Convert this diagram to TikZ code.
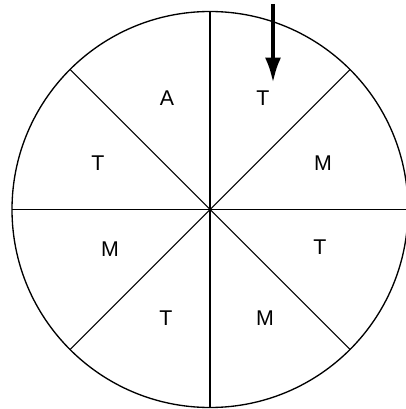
\documentclass[tikz,border=0pt]{standalone}
\usepackage{fontspec}
\setmainfont{Liberation Sans}
\usetikzlibrary{arrows.meta}

\begin{document}
\begin{tikzpicture}[x=0.75pt,y=-0.75pt,font=\fontsize{16}{19}\selectfont,>={Latex[length=19pt,width=12pt]}]
\useasboundingbox (0,0) rectangle (405,409);
\coordinate (c) at (210,209.5);
\draw[line width=1pt] (c) circle[radius=198*0.75pt];
\foreach \a in {0,45,...,315}{\draw[line width=0.8pt] (c) -- ++(\a:148.5pt);}
\node (sa) at (167,98) {A};
\node (sb) at (263,98) {T};
\node (sc) at (98,163) {T};
\node (sd) at (323,163) {M};
\node (se) at (110,249) {M};
\node (sf) at (320,247) {T};
\node (sg) at (166,318) {T};
\node (sh) at (265,318) {M};
\coordinate (pin) at (273,4);
\coordinate (tip) at (273,83);
\draw[->,line width=3pt] (pin) -- (tip);
\end{tikzpicture}
\end{document}
